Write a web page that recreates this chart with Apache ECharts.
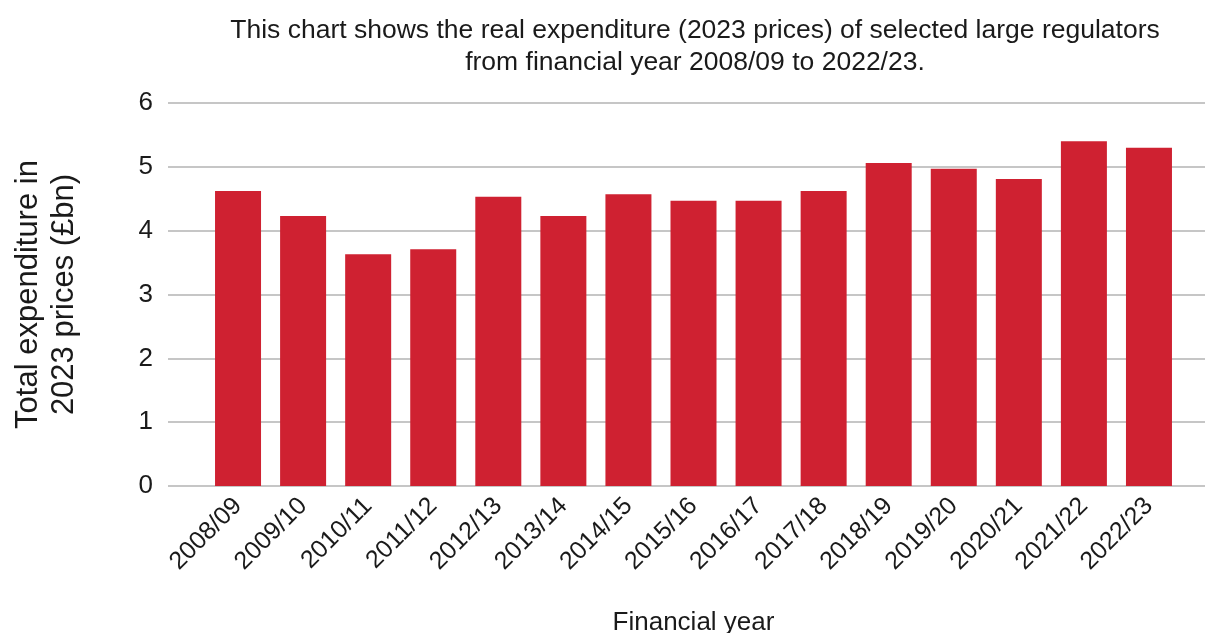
<!DOCTYPE html>
<html>
<head>
<meta charset="utf-8">
<title>Real expenditure of selected large regulators</title>
<script src="https://cdn.jsdelivr.net/npm/echarts@6/dist/echarts.min.js"></script>
<style>
  html, body { margin: 0; padding: 0; background: #fff; }
  #chart { width: 1206px; height: 633px; }
</style>
</head>
<body>
<div id="chart"></div>
<script>
// financial years and real expenditure (2023 prices, £bn)
var years = ['2008/09', '2009/10', '2010/11', '2011/12', '2012/13', '2013/14', '2014/15',
             '2015/16', '2016/17', '2017/18', '2018/19', '2019/20', '2020/21', '2021/22', '2022/23'];
var spend = [4.62, 4.23, 3.63, 3.71, 4.53, 4.23, 4.57, 4.47, 4.47, 4.62, 5.06, 4.97, 4.81, 5.40, 5.30];
var yTicks = [0, 6, 1]; // min, max, step

var font = 'Liberation Sans, Arial, sans-serif';
var myChart = echarts.init(document.getElementById('chart'));

var option = {
    animation: false,
    title: {
        text: 'This chart shows the real expenditure (2023 prices) of selected large regulators\nfrom financial year 2008/09 to 2022/23.',
        left: 690,
        top: 10,
        textAlign: 'center',
        textStyle: { fontFamily: font, fontSize: 26.5, fontWeight: 'normal', color: '#1a1a1a', lineHeight: 32 }
    },
    grid: [
        // grid 0 holds the bars
        { left: 205.5, right: 24.5, top: 103, bottom: 147, outerBoundsMode: 'none', containLabel: false },
        // grid 1 draws the gridlines and the value labels across the full width
        { left: 168, right: 1, top: 103, bottom: 147, outerBoundsMode: 'none', containLabel: false }
    ],
    xAxis: [
        {
            type: 'category',
            gridIndex: 0,
            data: years,
            axisLine: { show: false },
            axisTick: { show: false },
            axisLabel: { rotate: 45, fontFamily: font, fontSize: 25, color: '#1a1a1a', margin: 16, padding: [12, 0, 0, 0] },
            name: 'Financial year',
            nameLocation: 'middle',
            nameGap: 124,
            nameTextStyle: { fontFamily: font, fontSize: 26, color: '#1a1a1a' }
        },
        { type: 'value', gridIndex: 1, show: false, min: 0, max: 1 }
    ],
    yAxis: [
        {
            type: 'value', gridIndex: 0,
            min: yTicks[0], max: yTicks[1], interval: yTicks[2],
            axisLine: { show: false }, axisTick: { show: false },
            axisLabel: { show: false }, splitLine: { show: false }
        },
        {
            type: 'value', gridIndex: 1,
            min: yTicks[0], max: yTicks[1], interval: yTicks[2],
            axisLine: { show: false }, axisTick: { show: false },
            axisLabel: { fontFamily: font, fontSize: 26, color: '#1a1a1a', margin: 15 },
            splitLine: { lineStyle: { color: '#b3b3b3', width: 1.5 } },
            name: 'Total expenditure in\n2023 prices (£bn)',
            nameLocation: 'middle',
            nameRotate: 90,
            nameGap: 86,
            nameTextStyle: { fontFamily: font, fontSize: 31, color: '#1a1a1a', lineHeight: 36 }
        }
    ],
    series: [
        {
            name: 'Total expenditure',
            type: 'bar',
            xAxisIndex: 0,
            yAxisIndex: 0,
            data: spend,
            barWidth: 46,
            itemStyle: { color: '#cf2131' }
        }
    ]
};
myChart.setOption(option);
</script>
</body>
</html>
